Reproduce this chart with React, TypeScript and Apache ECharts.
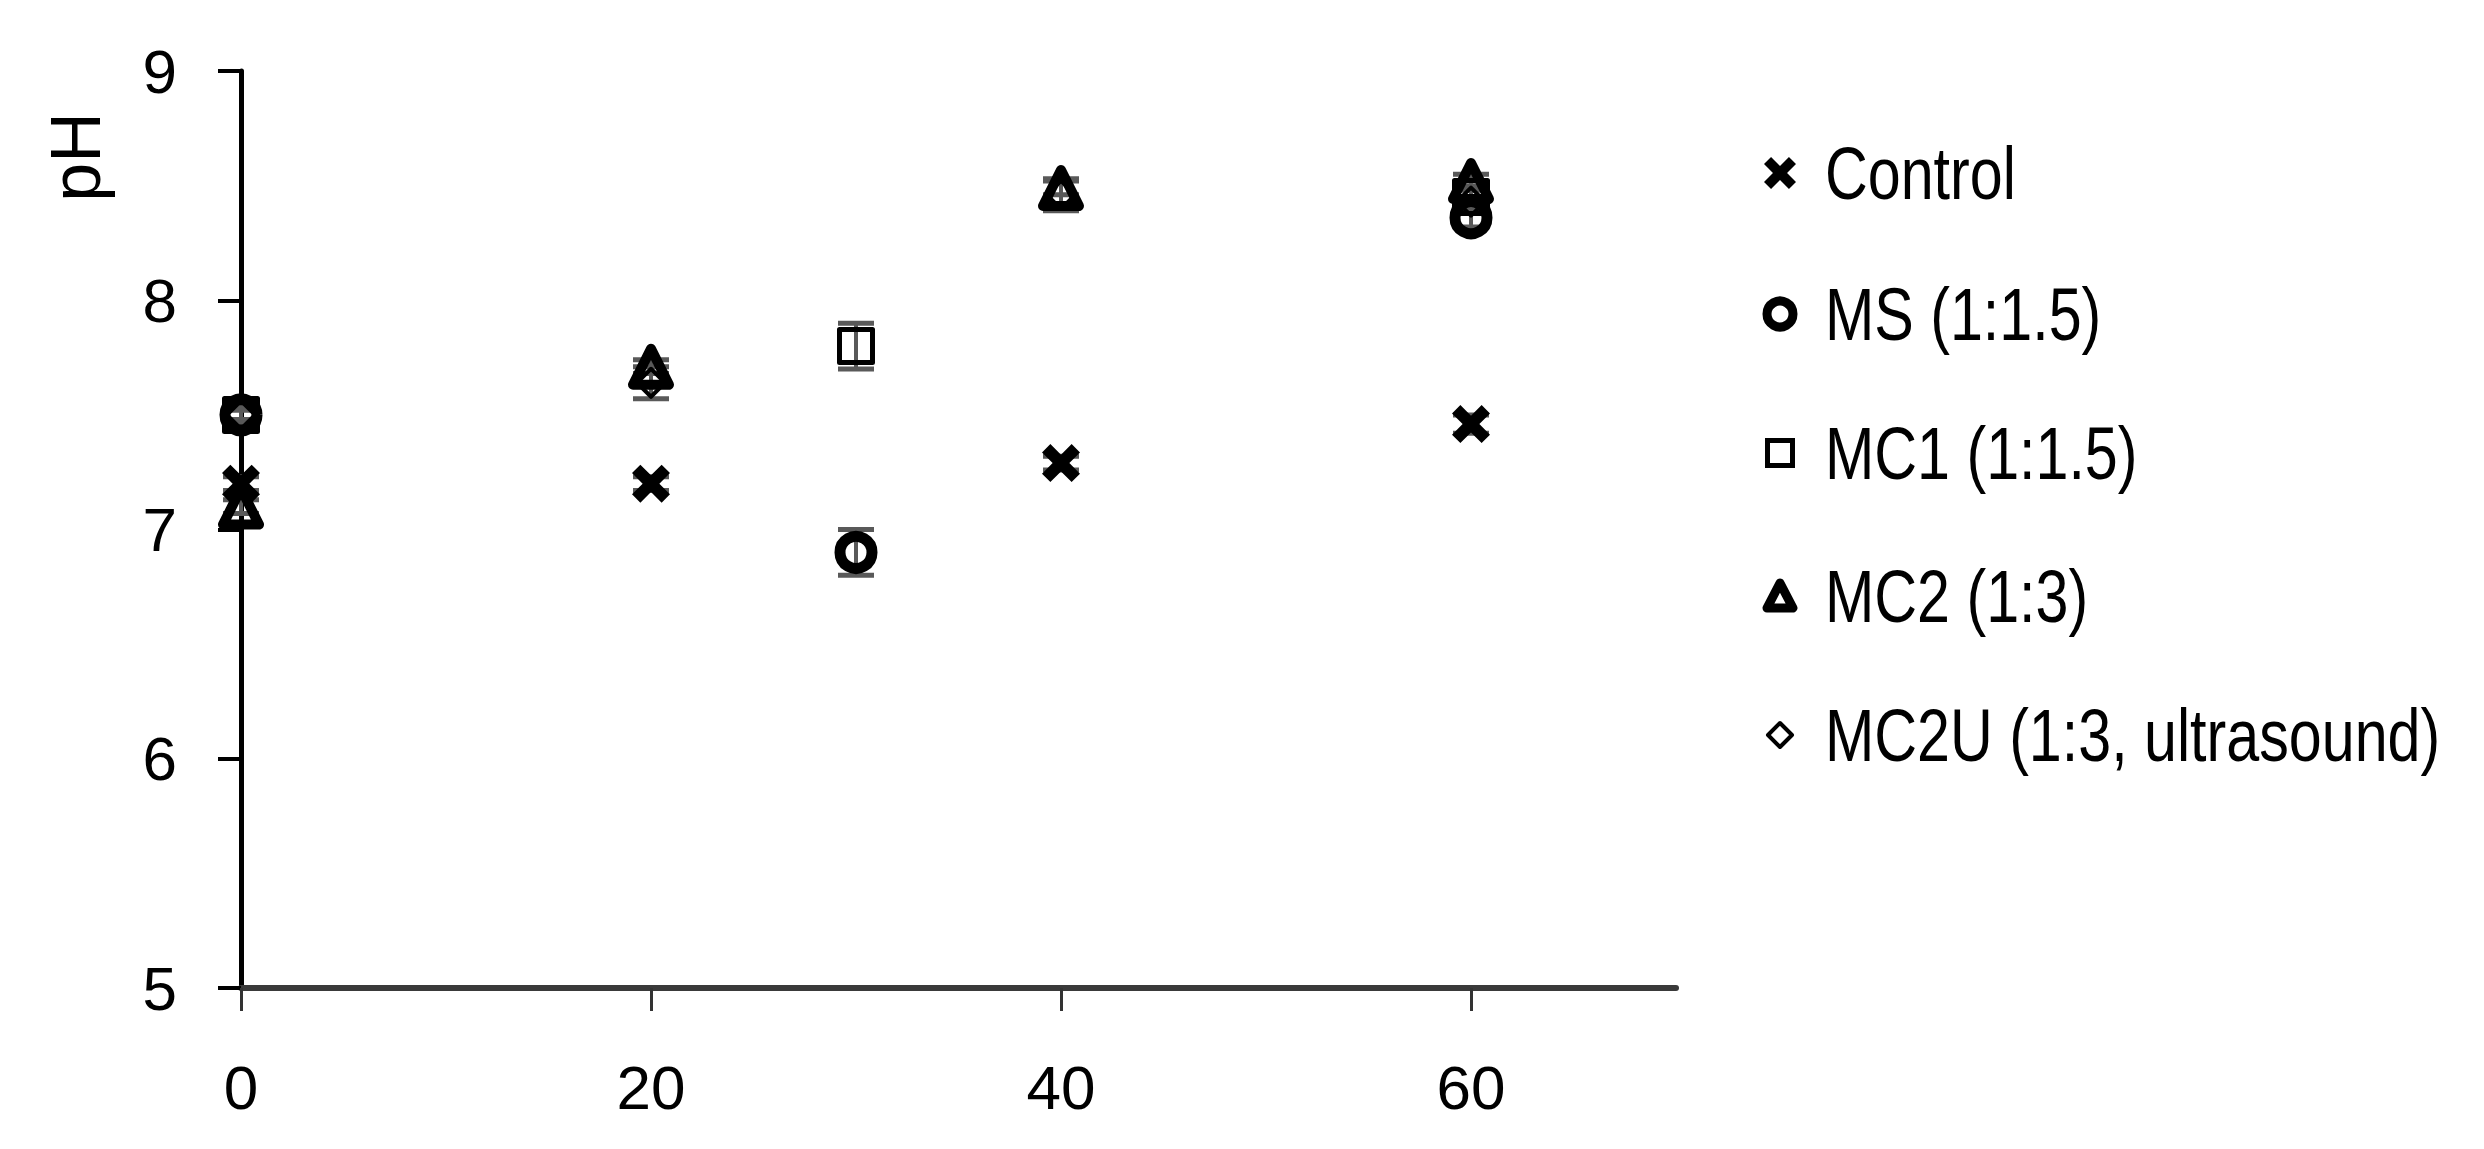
import React, { useEffect, useRef } from "react";
import * as echarts from "echarts";

const xTickValues = [0, 20, 40, 60];
const yTickValues = [5, 6, 7, 8, 9];

const controlX = [0, 20, 40, 60];
const controlY = [7.2, 7.2, 7.29, 7.46];
const controlErr = [0.03, 0.03, 0.03, 0.04];

const msX = [0, 30, 60];
const msY = [7.5, 6.9, 8.36];
const msErr = [0.02, 0.1, 0.04];

const mc1X = [0, 30, 60];
const mc1Y = [7.5, 7.8, 8.45];
const mc1Err = [0.03, 0.1, 0.05];

const mc2X = [0, 20, 40, 60];
const mc2Y = [7.1, 7.71, 8.49, 8.52];
const mc2Err = [0.03, 0.03, 0.03, 0.03];

const mc2uX = [0, 20, 40, 60];
const mc2uY = [7.5, 7.64, 8.46, 8.43];
const mc2uErr = [0.03, 0.07, 0.07, 0.05];

const names = ["Control", "MS (1:1.5)", "MC1 (1:1.5)", "MC2 (1:3)", "MC2U (1:3, ultrasound)"];

const X_PTS = [
  [22, 0], [50, 28], [78, 0], [100, 22], [72, 50], [100, 78],
  [78, 100], [50, 72], [22, 100], [0, 78], [28, 50], [0, 22],
];
const X_PATH = "path://M" + X_PTS.map((p) => p.join(",")).join(" L") + " Z";

const zip = (xs: number[], ys: number[]) => xs.map((x, i) => [x, ys[i]]);
const zipErr = (xs: number[], ys: number[], es: number[]) => xs.map((x, i) => [x, ys[i], es[i]]);

export default function App() {
  const ref = useRef<HTMLDivElement>(null);
  useEffect(() => {
    if (!ref.current) return;
    const chart = echarts.init(ref.current, null, { renderer: "svg" });
    const errData = [
      ...zipErr(controlX, controlY, controlErr),
      ...zipErr(msX, msY, msErr),
      ...zipErr(mc1X, mc1Y, mc1Err),
      ...zipErr(mc2X, mc2Y, mc2Err),
      ...zipErr(mc2uX, mc2uY, mc2uErr),
    ];
    const tickFont = "'Liberation Sans', Arial, sans-serif";

    // legend (drawn with graphic elements)
    const lgX = 1780;
    const lgTextX = 1825;
    const lgY = [173, 314, 453, 596, 735];
    const black = "#000";
    const icons: any[] = [
      {
        type: "polygon",
        shape: { points: X_PTS.map((p) => [lgX - 16 + (p[0] * 32) / 100, lgY[0] - 16 + (p[1] * 32) / 100]) },
        style: { fill: black },
      },
      {
        type: "circle",
        shape: { cx: lgX, cy: lgY[1], r: 13 },
        style: { fill: "none", stroke: black, lineWidth: 9 },
      },
      {
        type: "rect",
        shape: { x: lgX - 12.5, y: lgY[2] - 12.5, width: 25, height: 25 },
        style: { fill: "none", stroke: black, lineWidth: 5 },
      },
      {
        type: "polygon",
        shape: { points: [[lgX, lgY[3] - 13], [lgX + 13, lgY[3] + 12], [lgX - 13, lgY[3] + 12]] },
        style: { fill: "none", stroke: black, lineWidth: 9, lineJoin: "round" },
      },
      {
        type: "polygon",
        shape: { points: [[lgX, lgY[4] - 12], [lgX + 12, lgY[4]], [lgX, lgY[4] + 12], [lgX - 12, lgY[4]]] },
        style: { fill: "none", stroke: black, lineWidth: 4, lineJoin: "round" },
      },
    ];
    const texts = names.map((n, i) => ({
      type: "text",
      x: lgTextX,
      y: lgY[i],
      scaleX: 0.8,
      style: {
        text: n,
        fontSize: 74,
        fontFamily: tickFont,
        fill: black,
        align: "left",
        verticalAlign: "middle",
      },
    }));

    chart.setOption({
      animation: false,
      backgroundColor: "#ffffff",
      grid: { left: 241, right: 808, top: 71, bottom: 161, containLabel: false },
      xAxis: {
        type: "value",
        min: 0,
        max: 70,
        interval: 20,
        splitLine: { show: false },
        axisLine: { onZero: false, lineStyle: { color: "#3a3a3a", width: 6 } },
        axisTick: {
          show: true,
          length: 23,
          lineStyle: { color: "#333333", width: 3 },
          customValues: xTickValues,
        },
        axisLabel: {
          fontSize: 62,
          color: "#000",
          fontFamily: tickFont,
          margin: 68,
          customValues: xTickValues,
        },
      },
      yAxis: {
        type: "value",
        min: 5,
        max: 9,
        interval: 1,
        splitLine: { show: false },
        axisLine: { show: true, lineStyle: { color: "#000", width: 5 } },
        axisTick: { show: true, length: 23, lineStyle: { color: "#000", width: 4 }, customValues: yTickValues },
        axisLabel: { fontSize: 62, color: "#000", fontFamily: tickFont, margin: 64, customValues: yTickValues },
      },
      legend: { show: false },
      graphic: [
        {
          type: "text",
          x: 76,
          y: 157,
          rotation: Math.PI / 2,
          style: {
            text: "pH",
            fontSize: 70,
            fontFamily: tickFont,
            fill: "#000",
            align: "center",
            verticalAlign: "middle",
          },
        },
        ...icons,
        ...texts,
      ],
      series: [
        {
          type: "custom",
          name: "err",
          z: 1,
          silent: true,
          encode: { x: 0, y: 1 },
          data: errData,
          renderItem: (params: any, api: any) => {
            const x = api.value(0);
            const y = api.value(1);
            const e = api.value(2);
            const top = api.coord([x, y + e]);
            const bot = api.coord([x, y - e]);
            const hw = 18;
            const st = { stroke: "#595959", lineWidth: 5 };
            return {
              type: "group",
              children: [
                { type: "line", shape: { x1: top[0], y1: top[1], x2: bot[0], y2: bot[1] }, style: { stroke: "#595959", lineWidth: 4 } },
                { type: "line", shape: { x1: top[0] - hw, y1: top[1], x2: top[0] + hw, y2: top[1] }, style: st },
                { type: "line", shape: { x1: bot[0] - hw, y1: bot[1], x2: bot[0] + hw, y2: bot[1] }, style: st },
              ],
            };
          },
        },
        {
          type: "scatter",
          name: names[0],
          z: 3,
          symbol: X_PATH,
          symbolSize: 38,
          itemStyle: { color: "#000", opacity: 1 },
          data: zip(controlX, controlY),
        },
        {
          type: "scatter",
          name: names[2],
          z: 3,
          symbol: "rect",
          symbolSize: 33,
          itemStyle: { color: "rgba(255,255,255,0)", borderColor: "#000", borderWidth: 5, borderJoin: "round", opacity: 1 },
          data: zip(mc1X, mc1Y),
        },
        {
          type: "scatter",
          name: names[4],
          z: 3,
          symbol: "diamond",
          symbolSize: 28,
          itemStyle: { color: "rgba(255,255,255,0)", borderColor: "#000", borderWidth: 4, borderJoin: "round", opacity: 1 },
          data: zip(mc2uX, mc2uY),
        },
        {
          type: "scatter",
          name: names[3],
          z: 3,
          symbol: "triangle",
          symbolSize: 36,
          itemStyle: { color: "rgba(255,255,255,0)", borderColor: "#000", borderWidth: 10, borderJoin: "round", opacity: 1 },
          data: zip(mc2X, mc2Y),
        },
        {
          type: "scatter",
          name: names[1],
          z: 3,
          symbol: "circle",
          symbolSize: 32,
          itemStyle: { color: "rgba(255,255,255,0)", borderColor: "#000", borderWidth: 11, opacity: 1 },
          data: zip(msX, msY),
        },
      ],
    });
    return () => chart.dispose();
  }, []);
  return (
    <div
      ref={ref}
      style={{ position: "absolute", left: 0, top: 0, width: 2484, height: 1149 }}
    />
  );
}
